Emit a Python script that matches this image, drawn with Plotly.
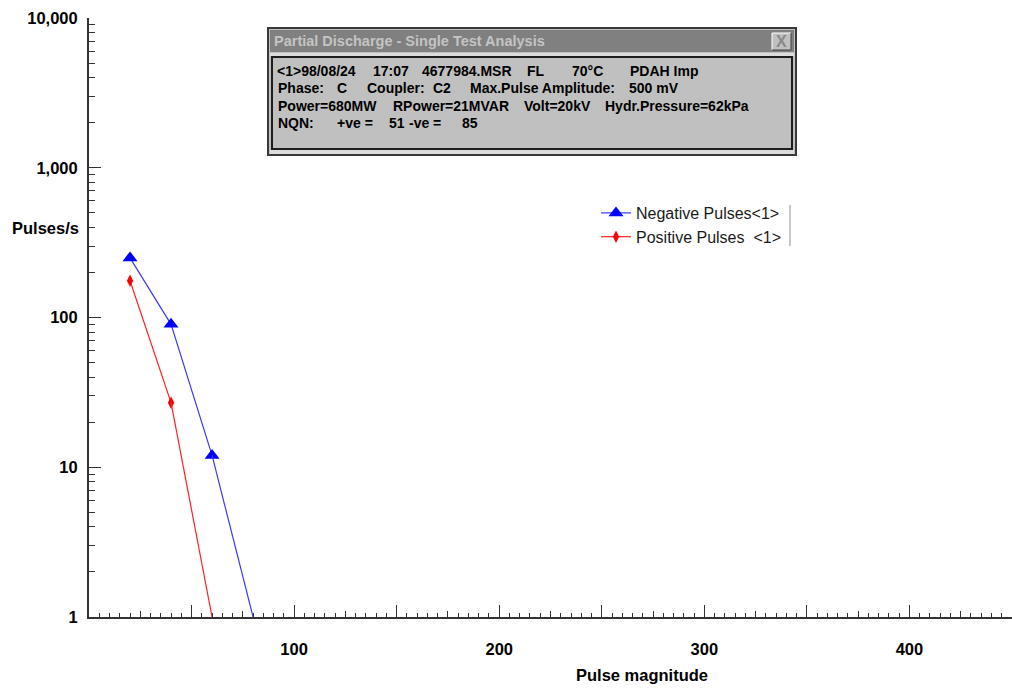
import plotly.graph_objects as go

# ---------------- data ----------------
pulse_magnitude = [20, 40, 60, 80]
negative_pulses = [250, 90, 12, 1]
positive_magnitude = [20, 40, 60]
positive_pulses = [176, 27, 1]

y_tickvals = [1, 10, 100, 1000, 10000]
y_ticktext = ["1", "10", "100", "1,000", "10,000"]
y_minorvals = [m * d for d in (1, 10, 100, 1000) for m in range(2, 10)]
x_tickvals = [50, 100, 150, 200, 250, 300, 350, 400, 450]
x_ticktext = ["", "100", "", "200", "", "300", "", "400", ""]
x_midvals = [25, 75, 125, 175, 225, 275, 325, 375, 425]

info_title = "Partial Discharge - Single Test Analysis"
info_lines = [
    [(275, "&lt;1&gt;98/08/24"), (371, "17:07"), (420, "4677984.MSR"), (525, "FL"), (570, "70°C"), (628, "PDAH Imp")],
    [(276, "Phase:"), (335, "C"), (365, "Coupler:"), (431, "C2"), (468, "Max.Pulse Amplitude:"), (627, "500 mV")],
    [(276, "Power=680MW"), (391, "RPower=21MVAR"), (522, "Volt=20kV"), (603, "Hydr.Pressure=62kPa")],
    [(276, "NQN:"), (335, "+ve ="), (387, "51"), (407, "-ve ="), (460, "85")],
]

# ---------------- geometry helpers (pixel -> paper) ----------------
W, H = 1012, 688
ML, MR, MT, MB = 89, 0, 18, 71
PW, PH = W - ML - MR, H - MT - MB


def px(x):
    return (x - ML) / PW


def py(y):
    return (H - MB - y) / PH


FONT = "Liberation Sans, Arial, sans-serif"

fig = go.Figure()

# Negative pulses (blue)
fig.add_trace(go.Scatter(
    x=pulse_magnitude[:-1], y=negative_pulses[:-1], mode="lines+markers",
    name="Negative Pulses&lt;1&gt;",
    line=dict(color="#3a3aff", width=1.2),
    marker=dict(symbol="triangle-up", size=13, color="#0000ff"),
))
fig.add_trace(go.Scatter(
    x=pulse_magnitude[-2:], y=negative_pulses[-2:], mode="lines",
    line=dict(color="#3a3aff", width=1.2), showlegend=False, hoverinfo="skip",
))
# Positive pulses (red)
fig.add_trace(go.Scatter(
    x=positive_magnitude[:-1], y=positive_pulses[:-1], mode="lines+markers",
    name="Positive Pulses  &lt;1&gt;",
    line=dict(color="#ff2020", width=1.2),
    marker=dict(symbol="diamond-tall", size=9, color="#ff0000"),
))
fig.add_trace(go.Scatter(
    x=positive_magnitude[-2:], y=positive_pulses[-2:], mode="lines",
    line=dict(color="#ff2020", width=1.2), showlegend=False, hoverinfo="skip",
))
# invisible trace to carry the medium-tick overlay axis
fig.add_trace(go.Scatter(x=[None], y=[None], xaxis="x2", showlegend=False, hoverinfo="skip"))

axis_col = "#333333"

shapes = []


def rect(x0, y0, x1, y1, fill, line=None, lw=0):
    shapes.append(dict(type="rect", xref="paper", yref="paper",
                       x0=px(x0), x1=px(x1), y0=py(y1), y1=py(y0),
                       fillcolor=fill, line=dict(color=line or fill, width=lw),
                       layer="above"))


def seg(x0, y0, x1, y1, color, lw=1):
    shapes.append(dict(type="line", xref="paper", yref="paper",
                       x0=px(x0), x1=px(x1), y0=py(y0), y1=py(y1),
                       line=dict(color=color, width=lw), layer="above"))


# dialog
rect(268, 28, 796, 155, "#c0c0c0", "#3a3a3a", 2)
rect(270, 30, 794, 52, "#808080")
rect(270, 53, 794, 56, "#dcdcdc")
rect(270, 150, 794, 154, "#dcdcdc")
rect(272, 57, 792, 149, "#c0c0c0", "#1e1e1e", 2)
# close button
rect(772, 33, 791, 50, "#c0c0c0")
seg(772, 33, 791, 33, "#ffffff")
seg(772, 33, 772, 50, "#ffffff")
seg(772, 50, 791, 50, "#404040")
seg(791, 33, 791, 50, "#404040")
# legend right divider
seg(790, 205, 790, 246, "#909090")

annotations = []
annotations.append(dict(xref="paper", yref="paper", x=px(272), y=py(41), xanchor="left", yanchor="middle",
                        text="<b>%s</b>" % info_title, showarrow=False,
                        font=dict(family=FONT, size=14.5, color="#c4c4c4")))
annotations.append(dict(xref="paper", yref="paper", x=px(781.5), y=py(41.5), xanchor="center", yanchor="middle",
                        text="<b>X</b>", showarrow=False,
                        font=dict(family=FONT, size=16, color="#8a8a8a")))
line_y = [71, 88.5, 106, 123.5]
for ly, parts in zip(line_y, info_lines):
    for lx, t in parts:
        annotations.append(dict(xref="paper", yref="paper", x=px(lx), y=py(ly), xanchor="left", yanchor="middle",
                                text="<b>%s</b>" % t, showarrow=False,
                                font=dict(family=FONT, size=14, color="#000000")))
# axis titles
annotations.append(dict(xref="paper", yref="paper", x=px(10), y=py(228), xanchor="left", yanchor="middle",
                        text="<b>Pulses/s</b>", showarrow=False,
                        font=dict(family=FONT, size=16.5, color="#000000")))
annotations.append(dict(xref="paper", yref="paper", x=px(642), y=py(675), xanchor="center", yanchor="middle",
                        text="<b>Pulse magnitude</b>", showarrow=False,
                        font=dict(family=FONT, size=16.5, color="#000000")))

fig.update_layout(
    width=W, height=H,
    margin=dict(l=ML, r=MR, t=MT, b=MB, pad=0),
    paper_bgcolor="white", plot_bgcolor="white",
    font=dict(family=FONT, color="#000000"),
    showlegend=True,
    legend=dict(x=px(596), y=py(196), xanchor="left", yanchor="top",
                bgcolor="rgba(0,0,0,0)", borderwidth=0,
                font=dict(family=FONT, size=16, color="#1a1a1a"),
                tracegroupgap=0),
    xaxis=dict(range=[0, 450], showgrid=False, zeroline=False,
               showline=True, linecolor=axis_col, linewidth=2,
               ticks="inside", ticklen=12, tickwidth=1, tickcolor=axis_col,
               tickmode="array", tickvals=x_tickvals, ticktext=x_ticktext,
               tickfont=dict(family=FONT, size=16.5, color="#000000", weight="bold"),
               ticklabelstandoff=16,
               minor=dict(ticks="inside", ticklen=4, tickwidth=1, tickcolor=axis_col,
                          dtick=5, tick0=0, showgrid=False)),
    xaxis2=dict(range=[0, 450], overlaying="x", side="bottom", anchor="y",
                showgrid=False, zeroline=False, showline=False,
                ticks="inside", ticklen=6, tickwidth=1, tickcolor=axis_col,
                tickmode="array", tickvals=x_midvals, showticklabels=False),
    yaxis=dict(type="log", range=[0, 4], showgrid=False, zeroline=False,
               showline=True, linecolor=axis_col, linewidth=2,
               ticks="inside", ticklen=12, tickwidth=1, tickcolor=axis_col,
               tickmode="array", tickvals=y_tickvals, ticktext=y_ticktext,
               tickfont=dict(family=FONT, size=16.5, color="#000000", weight="bold"),
               ticklabelstandoff=6,
               minor=dict(ticks="inside", ticklen=6, tickwidth=1, tickcolor=axis_col,
                          tickmode="array", tickvals=y_minorvals, showgrid=False)),
    shapes=shapes,
    annotations=annotations,
)

fig.write_html("out.html")
